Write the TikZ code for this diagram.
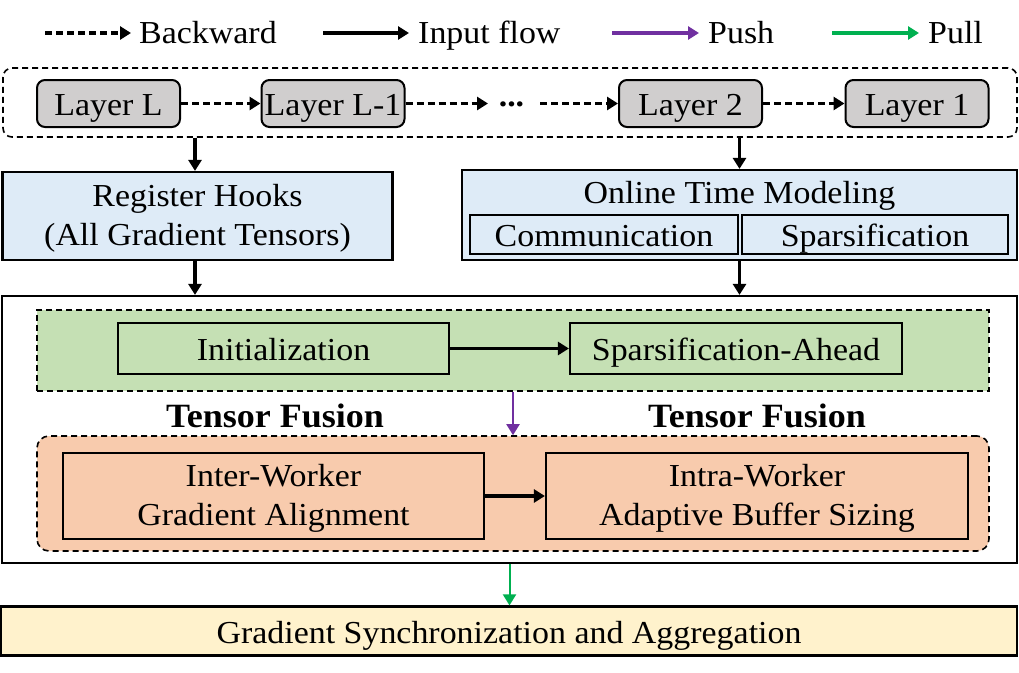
\documentclass[tikz,border=0pt]{standalone}
\usepackage{fontspec}
\setmainfont{Liberation Serif}[FakeStretch=1.06]
\usetikzlibrary{arrows.meta}
\definecolor{laygray}{HTML}{D0CECE}
\definecolor{lblue}{HTML}{DEEBF7}
\definecolor{lgreen}{HTML}{C5E0B4}
\definecolor{lorange}{HTML}{F8CBAD}
\definecolor{lyellow}{HTML}{FFF2CC}
\definecolor{ppush}{HTML}{7030A0}
\definecolor{gpull}{HTML}{00B050}
\tikzset{
  txt/.style={font=\fontsize{32}{39}\selectfont, inner sep=0pt},
  one/.style={txt, text height=26pt, text depth=2pt},
  layerbox/.style={one, draw, line width=2pt, fill=laygray, rounded corners=8pt, minimum width=143pt, minimum height=47pt},
  solidbox/.style={one, draw, line width=2.2pt, align=center},
  twoline/.style={text height=60pt, text depth=2pt},
  tip/.style={-{Triangle[length=11pt,width=13pt]}},
  bwd/.style={tip, line width=3.2pt, dash pattern=on 7pt off 4pt},
  fwd/.style={tip, line width=3.2pt},
  thinarr/.style={tip, line width=2pt},
  grp/.style={draw, line width=1.6pt, dash pattern=on 6pt off 4pt},
}
\begin{document}
\begin{tikzpicture}[x=1pt,y=-1pt]
\useasboundingbox (0,0) rectangle (1019,672);

% legend
\coordinate (lg1a) at (45,33);  \coordinate (lg1b) at (131,33);
\coordinate (lg2a) at (323,33); \coordinate (lg2b) at (409,33);
\coordinate (lg3a) at (612,33); \coordinate (lg3b) at (699,33);
\coordinate (lg4a) at (832,33); \coordinate (lg4b) at (919,33);
\draw[bwd] (lg1a) -- (lg1b);
\draw[fwd] (lg2a) -- (lg2b);
\draw[fwd, ppush] (lg3a) -- (lg3b);
\draw[fwd, gpull] (lg4a) -- (lg4b);
\node[txt, anchor=base west] (tback) at (139,43) {Backward};
\node[txt, anchor=base west] (tin) at (418,43) {Input flow};
\node[txt, anchor=base west] (tpush) at (708,43) {Push};
\node[txt, anchor=base west] (tpull) at (928,43) {Pull};

% layers
\node[grp, rounded corners=9pt, minimum width=1014pt, minimum height=69pt] (outer) at (510,102.5) {};
\node[layerbox] (lL) at (108.5,103.5) {Layer L};
\node[layerbox] (lL1) at (333,103.5) {Layer L-1};
\node[layerbox] (l2) at (690.5,103.5) {Layer 2};
\node[layerbox] (l1) at (917,103.5) {Layer 1};
\node[txt, anchor=base] (dots) at (511.5,106) {\textbf{...}};
\coordinate (dl) at (488,103.5);
\coordinate (dr) at (540,103.5);
\draw[bwd] (lL) -- (lL1);
\draw[bwd] (lL1) -- (dl);
\draw[bwd] (dr) -- (l2);
\draw[bwd] (l2) -- (l1);

% second row
\node[solidbox, twoline, fill=lblue, minimum width=390pt, minimum height=88pt] (rh) at (197.5,216) {Register Hooks\\(All Gradient Tensors)};
\node[draw, line width=2.2pt, fill=lblue, minimum width=555pt, minimum height=90pt] (otm) at (739.5,215) {};
\node[one] (otmt) at (739.5,191) {Online Time Modeling};
\node[solidbox, fill=lblue, minimum width=268pt, minimum height=39pt] (comm) at (604,234.5) {Communication};
\node[solidbox, fill=lblue, minimum width=266pt, minimum height=39pt] (spar) at (875,234.5) {Sparsification};
\draw[fwd] (outer.south -| 195,0) -- (rh.north -| 195,0);
\draw[fwd] (outer.south -| otm.north) -- (otm.north);

% big box
\node[draw, line width=2.2pt, minimum width=1015pt, minimum height=267pt] (big) at (509.5,429.5) {};
\draw[fwd] (rh.south -| 195,0) -- (big.north -| 195,0);
\draw[fwd] (otm.south) -- (big.north -| otm.south);

\node[grp, fill=lgreen, minimum width=952pt, minimum height=81pt] (gbox) at (513,350.5) {};
\node[solidbox, fill=lgreen, minimum width=331pt, minimum height=51pt] (init) at (283.5,348.5) {Initialization};
\node[solidbox, fill=lgreen, minimum width=332pt, minimum height=51pt] (sa) at (736,348.5) {Sparsification-Ahead};
\draw[fwd] (init) -- (sa);

\node[inner sep=0pt, anchor=base, font=\fontsize{34}{36}\selectfont\bfseries] (tf1) at (275,427) {Tensor Fusion};
\node[inner sep=0pt, anchor=base, font=\fontsize{34}{36}\selectfont\bfseries] (tf2) at (757,427) {Tensor Fusion};

\node[grp, fill=lorange, rounded corners=12pt, minimum width=952pt, minimum height=115pt] (obox) at (513,493.5) {};
\node[solidbox, twoline, fill=lorange, minimum width=421pt, minimum height=86pt] (inter) at (273.5,496) {Inter-Worker\\Gradient Alignment};
\node[solidbox, twoline, fill=lorange, minimum width=422pt, minimum height=86pt] (intra) at (757,496) {Intra-Worker\\Adaptive Buffer Sizing};
\draw[fwd] (inter) -- (intra);
\draw[thinarr, ppush] (gbox.south) -- (obox.north);

% bottom
\node[solidbox, fill=lyellow, minimum width=1016pt, minimum height=49pt] (sync) at (509,631) {Gradient Synchronization and Aggregation};
\draw[thinarr, gpull] (big.south) -- (sync.north -| big.south);
\end{tikzpicture}
\end{document}
